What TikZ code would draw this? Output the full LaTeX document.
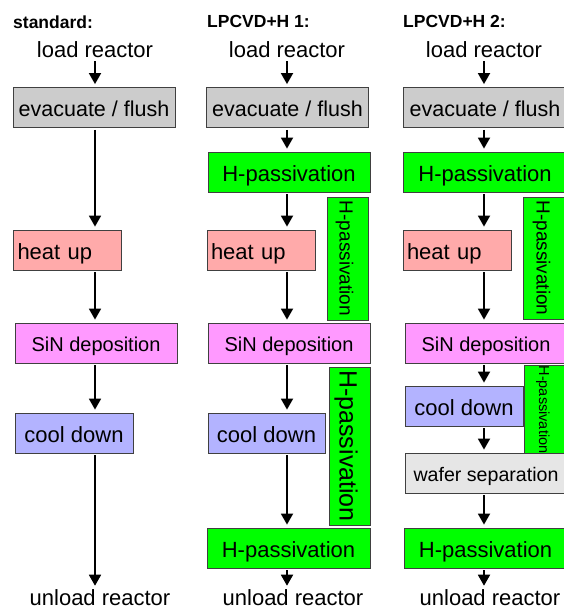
\documentclass[tikz,border=0pt]{standalone}
\usepackage{fontspec}
\setmainfont{Liberation Sans}
\usetikzlibrary{arrows.meta,positioning,calc}

\definecolor{evacgray}{HTML}{CCCCCC}
\definecolor{heatred}{HTML}{FFAAAA}
\definecolor{sinpink}{HTML}{FF99FF}
\definecolor{coolblue}{HTML}{B3B3FF}
\definecolor{hgreen}{HTML}{00FF00}
\definecolor{wafergray}{HTML}{E6E6E6}

\tikzset{
  txt/.style={inner sep=1pt, font=\fontsize{22}{24}\selectfont},
  head/.style={anchor=west, inner sep=0pt, font=\bfseries\fontsize{17.5}{20}\selectfont},
  stepbox/.style={rectangle, draw=black!75, line width=0.8pt, inner sep=0pt,
    minimum height=40pt, text height=18pt, text depth=0pt, font=\fontsize{22}{24}\selectfont},
  evac/.style={stepbox, fill=evacgray, minimum width=162pt, font=\fontsize{21.5}{24}\selectfont},
  heat/.style={stepbox, fill=heatred, align=left, text width=100pt, inner xsep=4pt},
  sin/.style={stepbox, fill=sinpink, minimum width=162pt, text height=16pt, font=\fontsize{20}{22}\selectfont},
  cool/.style={stepbox, fill=coolblue, minimum width=118pt},
  hpass/.style={stepbox, fill=hgreen, minimum width=162pt},
  wafer/.style={stepbox, fill=wafergray, minimum width=162pt, text height=16pt, font=\fontsize{19.6}{21}\selectfont},
  vpass/.style={stepbox, fill=hgreen, rotate=-90, minimum height=41pt, text height=16pt, font=\fontsize{19}{20}\selectfont},
  flow/.style={-{Triangle[width=12pt,length=11pt]}, line width=1.8pt, shorten <=2pt, shorten >=3pt}
}

\begin{document}
\begin{tikzpicture}[x=1pt,y=-1pt]
	\useasboundingbox (0,0) rectangle (564,610);
	\clip (0,0) rectangle (564,610);
	
	% standard
	\node[head] (title1) at (13,22) {standard:};
	\node[txt] (load1) at (95,50) {load reactor};
	\node[evac] (evac1) at (94,107.5) {evacuate / flush};
	\node[heat] (heat1) at (67.5,250) {heat up};
	\node[sin] (sin1) at (96,343) {SiN deposition};
	\node[cool] (cool1) at (74,433) {cool down};
	\node[txt] (unload1) at (100,598) {unload reactor};
	
	\draw[flow] (load1.south) -- (evac1.north -| load1);
	\draw[flow] (evac1.south -| load1) -- (heat1.north -| load1);
	\draw[flow] (heat1.south -| load1) -- (sin1.north -| load1);
	\draw[flow] (sin1.south -| load1) -- (cool1.north -| load1);
	\draw[flow] (cool1.south -| load1) -- (unload1.north -| load1);
	
	% LPCVD+H 1
	\node[head] (title2) at (207,21) {LPCVD+H 1:};
	\node[txt] (load2) at (287,50) {load reactor};
	\node[evac] (evac2) at (287.5,107.5) {evacuate / flush};
	\node[hpass] (hp2a) at (289,172) {H-passivation};
	\node[heat] (heat2) at (261,250) {heat up};
	\node[vpass, minimum width=123pt] (vp2a) at (347.5,258.5) {H-passivation};
	\node[sin] (sin2) at (289,343) {SiN deposition};
	\node[cool, minimum width=117pt] (cool2) at (266.5,433) {cool down};
	\node[vpass, minimum width=158pt, text height=20pt, font=\fontsize{25}{26}\selectfont] (vp2b) at (349.5,446) {H-passivation};
	\node[hpass, minimum width=163pt] (hp2b) at (288.5,548) {H-passivation};
	\node[txt] (unload2) at (293,598) {unload reactor};
	
	\draw[flow] (load2.south) -- (evac2.north -| load2);
	\draw[flow] (evac2.south -| load2) -- (hp2a.north -| load2);
	\draw[flow] (hp2a.south -| load2) -- (heat2.north -| load2);
	\draw[flow] (heat2.south -| load2) -- (sin2.north -| load2);
	\draw[flow] (sin2.south -| load2) -- (cool2.north -| load2);
	\draw[flow] (cool2.south -| load2) -- (hp2b.north -| load2);
	\draw[flow] (hp2b.south -| load2) -- (unload2.north -| load2);
	
	% LPCVD+H 2
	\node[head] (title3) at (403,21) {LPCVD+H 2:};
	\node[txt] (load3) at (484,50) {load reactor};
	\node[evac, minimum width=164pt] (evac3) at (485,107.5) {evacuate / flush};
	\node[hpass, minimum width=164pt] (hp3a) at (485,172) {H-passivation};
	\node[heat] (heat3) at (457,250) {heat up};
	\node[vpass, minimum width=122pt, minimum height=43pt] (vp3a) at (544.5,258) {H-passivation};
	\node[sin] (sin3) at (486,343) {SiN deposition};
	\node[cool] (cool3) at (464,406) {cool down};
	\node[vpass, minimum width=85pt, minimum height=42pt, text height=12pt, font=\fontsize{14.5}{15}\selectfont] (vp3b) at (545,409.5) {H-passivation};
	\node[wafer] (wafer3) at (486,473) {wafer separation};
	\node[hpass, minimum width=163pt] (hp3b) at (485.5,548) {H-passivation};
	\node[txt] (unload3) at (490,598) {unload reactor};
	
	\draw[flow] (load3.south) -- (evac3.north -| load3);
	\draw[flow] (evac3.south -| load3) -- (hp3a.north -| load3);
	\draw[flow] (hp3a.south -| load3) -- (heat3.north -| load3);
	\draw[flow] (heat3.south -| load3) -- (sin3.north -| load3);
	\draw[flow] (sin3.south -| load3) -- (cool3.north -| load3);
	\draw[flow] (cool3.south -| load3) -- (wafer3.north -| load3);
	\draw[flow] (wafer3.south -| load3) -- (hp3b.north -| load3);
	\draw[flow] (hp3b.south -| load3) -- (unload3.north -| load3);
\end{tikzpicture}
\end{document}
